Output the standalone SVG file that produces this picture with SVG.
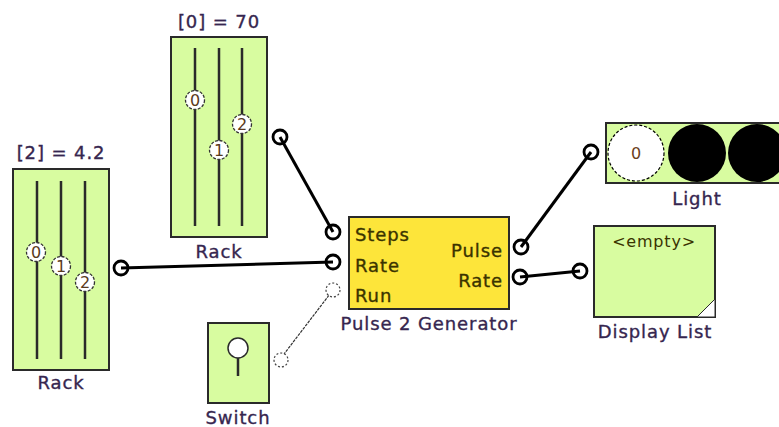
<svg xmlns="http://www.w3.org/2000/svg" width="779" height="427" viewBox="0 0 779 427">
<defs>
<style>
.box{fill:#d8fca0;stroke:#2a2a2a;stroke-width:2}
.gen{fill:#fde53a;stroke:#2a2a2a;stroke-width:2}
.lbl{font-family:"DejaVu Sans",Verdana,sans-serif;font-size:18px;letter-spacing:0.9px;fill:#36264f;stroke:#36264f;stroke-width:0.35;text-anchor:middle}
.in{font-family:"DejaVu Sans",Verdana,sans-serif;font-size:18px;letter-spacing:0.9px;fill:#3a3300;stroke:#3a3300;stroke-width:0.35}
.rail{stroke:#2a2a2a;stroke-width:2.5}
.knob{fill:#fff;stroke:#333;stroke-width:1.3;stroke-dasharray:3 1.5}
.kt{font-family:"DejaVu Sans",Verdana,sans-serif;font-size:16px;fill:#5a3a20;text-anchor:middle}
.port{fill:none;stroke:#000;stroke-width:2.8}
.dport{fill:#fff;stroke:#444;stroke-width:1.2;stroke-dasharray:2 2}
.wire{stroke:#000;stroke-width:3;fill:none}
.thin{stroke:#333;stroke-width:1.2;fill:none;stroke-dasharray:3 1}
</style>
</defs>
<rect width="779" height="427" fill="#fff"/>
<g id="connectors">
<line class="wire" x1="280" y1="137" x2="333" y2="232"/>
<line class="wire" x1="121" y1="268" x2="333" y2="262"/>
<line class="thin" x1="281" y1="358" x2="333" y2="290"/>
<line class="wire" x1="521" y1="247" x2="591" y2="152"/>
<line class="wire" x1="520" y1="277" x2="580" y2="271"/>
</g>
<g id="rack-top">
<text class="lbl" x="219" y="28">[0] = 70</text>
<rect class="box" x="171" y="37" width="96" height="200"/>
<line class="rail" x1="195" y1="48" x2="195" y2="226"/>
<line class="rail" x1="219" y1="48" x2="219" y2="226"/>
<line class="rail" x1="242" y1="48" x2="242" y2="226"/>
<circle class="knob" cx="195" cy="100" r="9.5"/><text class="kt" x="195" y="106">0</text>
<circle class="knob" cx="219" cy="150" r="9.5"/><text class="kt" x="219" y="156">1</text>
<circle class="knob" cx="242" cy="124" r="9.5"/><text class="kt" x="242" y="130">2</text>
<text class="lbl" x="219" y="258">Rack</text>
<circle class="port" cx="280" cy="137" r="7"/>
</g>
<g id="rack-left">
<text class="lbl" x="61" y="159">[2] = 4.2</text>
<rect class="box" x="13" y="169" width="96" height="201"/>
<line class="rail" x1="37" y1="181" x2="37" y2="359"/>
<line class="rail" x1="61" y1="181" x2="61" y2="359"/>
<line class="rail" x1="85" y1="181" x2="85" y2="359"/>
<circle class="knob" cx="36" cy="252" r="9.5"/><text class="kt" x="36" y="258">0</text>
<circle class="knob" cx="61" cy="266" r="9.5"/><text class="kt" x="61" y="272">1</text>
<circle class="knob" cx="85" cy="282" r="9.5"/><text class="kt" x="85" y="288">2</text>
<text class="lbl" x="61" y="389">Rack</text>
<circle class="port" cx="121" cy="268" r="7"/>
</g>
<g id="switch">
<rect class="box" x="208" y="323" width="61" height="80"/>
<circle cx="238" cy="348" r="10" fill="#fff" stroke="#2a2a2a" stroke-width="1.5"/>
<line x1="238" y1="358" x2="238" y2="376" stroke="#2a2a2a" stroke-width="2.5"/>
<text class="lbl" x="238" y="424">Switch</text>
<circle class="dport" cx="281" cy="360" r="7"/>
</g>
<g id="pulse-generator">
<rect class="gen" x="349" y="217" width="160" height="92"/>
<text class="in" x="355" y="241">Steps</text>
<text class="in" x="355" y="272">Rate</text>
<text class="in" x="355" y="302">Run</text>
<text class="in" x="503" y="257" text-anchor="end">Pulse</text>
<text class="in" x="503" y="287" text-anchor="end">Rate</text>
<text class="lbl" x="429" y="330">Pulse 2 Generator</text>
<circle class="port" cx="333" cy="232" r="7"/>
<circle class="port" cx="333" cy="262" r="7"/>
<circle class="dport" cx="333" cy="290" r="7"/>
<circle class="port" cx="521" cy="247" r="7"/>
<circle class="port" cx="520" cy="277" r="7"/>
</g>
<g id="light">
<rect class="box" x="606" y="123" width="180" height="60"/>
<circle cx="636" cy="153" r="28" fill="#fff" stroke="#000" stroke-width="1.2" stroke-dasharray="3 2"/>
<text x="636" y="159" font-family="DejaVu Sans,Verdana,sans-serif" font-size="16" fill="#6a4020" text-anchor="middle">0</text>
<circle cx="697" cy="153" r="29" fill="#000"/>
<circle cx="757" cy="153" r="29" fill="#000"/>
<text class="lbl" x="697" y="205">Light</text>
<circle class="port" cx="591" cy="152" r="7"/>
</g>
<g id="display-list">
<rect class="box" x="594" y="226" width="121" height="91"/>
<polygon points="697,317 715,317 715,299" fill="#fff" stroke="#2a2a2a" stroke-width="1"/>
<text x="654" y="247" font-family="DejaVu Sans,Verdana,sans-serif" font-size="16" letter-spacing="0.8" fill="#3a3300" text-anchor="middle">&lt;empty&gt;</text>
<text class="lbl" x="655" y="338">Display List</text>
<circle class="port" cx="580" cy="271" r="7"/>
</g>
</svg>
